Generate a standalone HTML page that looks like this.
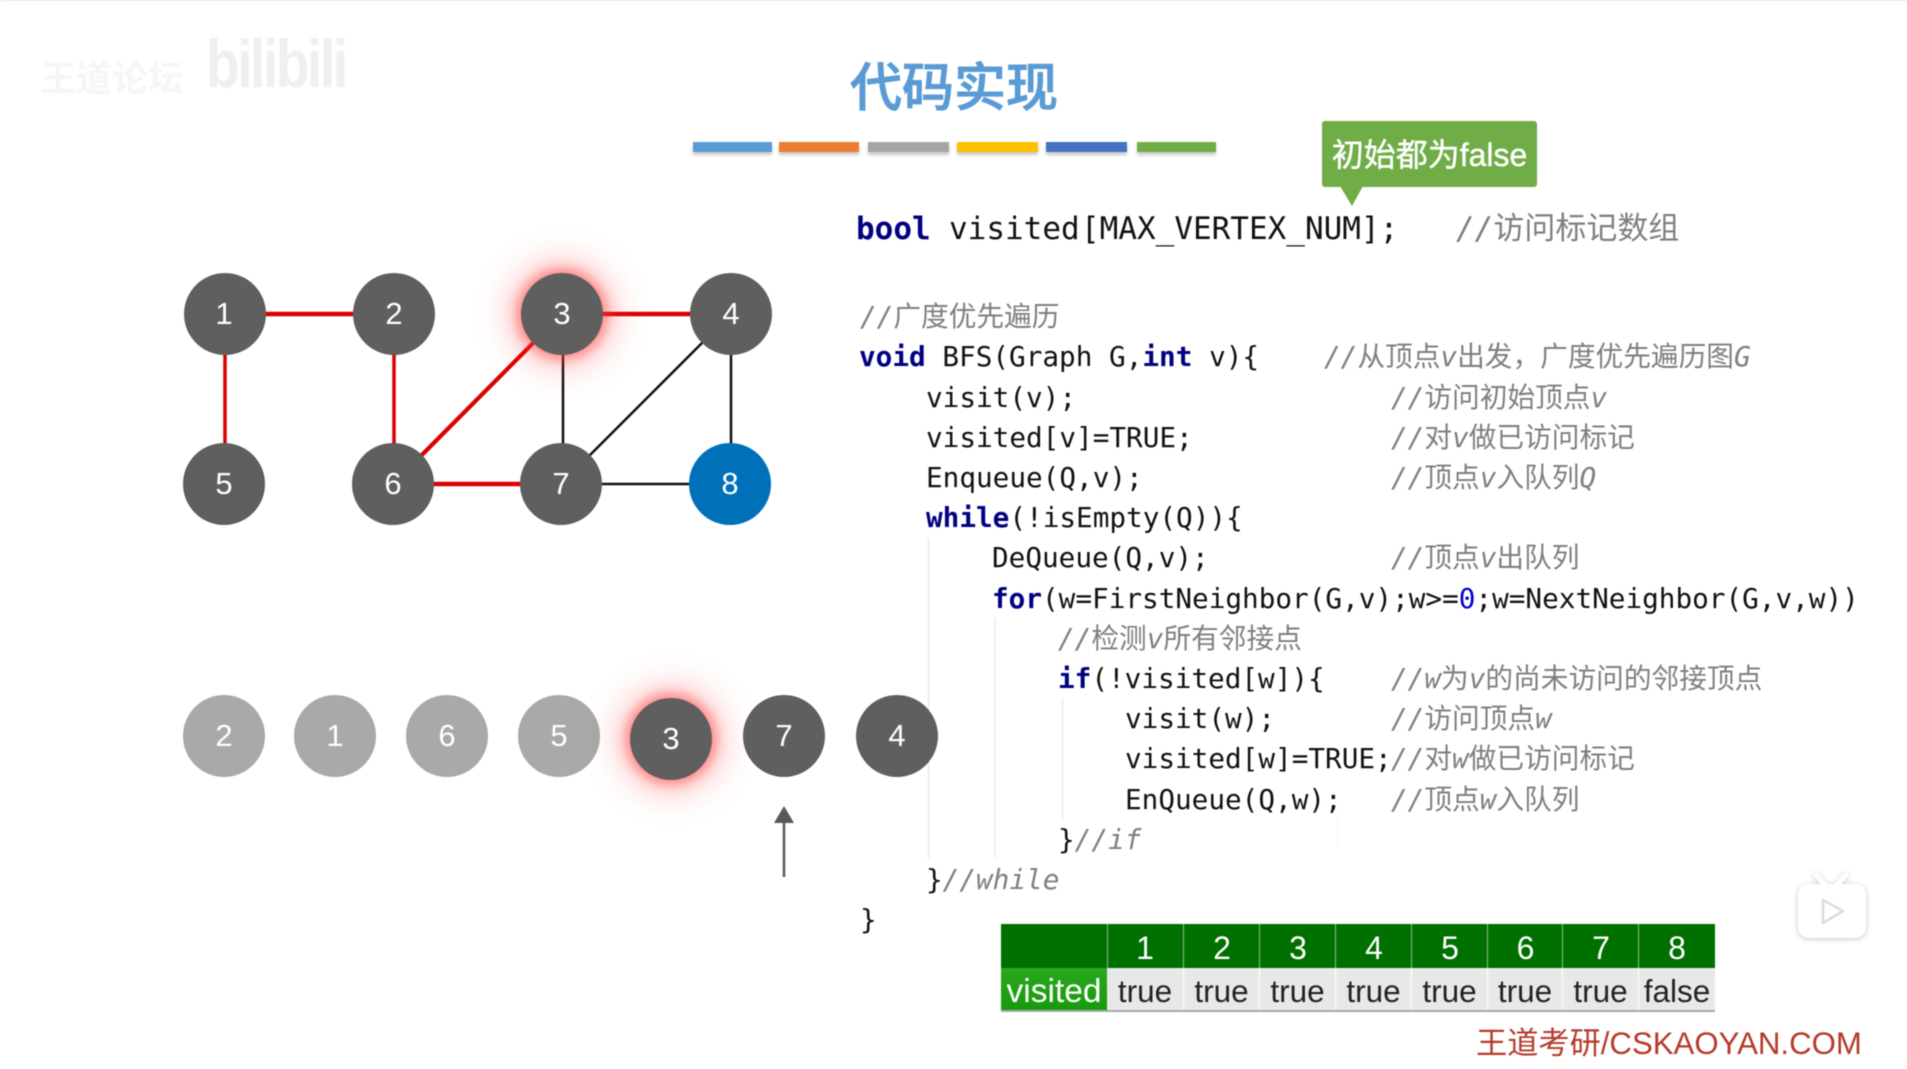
<!DOCTYPE html>
<html><head><meta charset="utf-8">
<style>
html,body{margin:0;padding:0;background:#fff}
#p{position:relative;width:1907px;height:1069px;overflow:hidden;background:#fff;filter:blur(.45px);border-top:0}
#p div{position:absolute}
.l{font:27.7px/40px "DejaVu Sans Mono","Noto Sans CJK SC",monospace;color:#111;white-space:pre}
.k{color:#000080;font-weight:bold}
.c{color:#7f7f7f}
.c i{font-style:italic}
.n{width:82px;height:82px;border-radius:50%;background:#5f5f5f;color:#fff;font:31px/82px "Liberation Sans",sans-serif;text-align:center}
.g{background:#a9a9a9}
.t{font:31.5px/46px "Liberation Sans",sans-serif;text-align:center;color:#222;background:#e8e8e8;height:43px;top:968px}
.h{font:32px/48px "Liberation Sans",sans-serif;text-align:center;color:#fff;height:44px;top:924px}
.b{top:142px;height:10px;box-shadow:0 3px 3px rgba(0,0,0,.22)}
</style></head><body><div id="p">
<div style="left:0;top:0;width:1907px;height:1px;background:#e6e6e6"></div>

<div style="left:40px;top:54px;font:bold 36px/44px 'Noto Sans CJK SC',sans-serif;color:#f6f6f6;white-space:pre">王道论坛</div>
<div style="left:206px;top:28px;font:bold 68px/72px 'Liberation Sans',sans-serif;color:#efefef;letter-spacing:-3px;transform:scaleX(.81);transform-origin:left">bilibili</div>

<div style="left:850px;top:48px;font:500 52px/72px 'Noto Sans CJK SC',sans-serif;color:#5b9bd5;white-space:pre;-webkit-text-stroke:.9px #5b9bd5">代码实现</div>

<div class="b" style="left:693px;width:79px;background:#5b9bd5"></div>
<div class="b" style="left:779px;width:80px;background:#ed7d31"></div>
<div class="b" style="left:868px;width:81px;background:#a5a5a5"></div>
<div class="b" style="left:957px;width:81px;background:#ffc000"></div>
<div class="b" style="left:1046px;width:81px;background:#4472c4"></div>
<div class="b" style="left:1137px;width:79px;background:#70ad47"></div>

<div style="left:1322px;top:121px;width:215px;height:66px;background:#70ad47;border-radius:3px;color:#fff;font:32px/68px 'Liberation Sans','Noto Sans CJK SC',sans-serif;text-align:center;white-space:pre;-webkit-text-stroke:.4px #fff">初始都为false</div>

<svg style="position:absolute;left:0;top:0" width="1907" height="1069">
<polygon points="1340,186 1363,186 1352,206" fill="#70ad47"/>
<g stroke="#dc0000" fill="none">
<line x1="225" y1="314" x2="394" y2="314" stroke-width="4.5"/>
<line x1="562" y1="314" x2="731" y2="314" stroke-width="4.5"/>
<line x1="393" y1="484" x2="561" y2="484" stroke-width="4.5"/>
<line x1="225" y1="314" x2="225" y2="484" stroke-width="3.5"/>
<line x1="394" y1="314" x2="394" y2="484" stroke-width="3.5"/>
<line x1="562" y1="314" x2="393" y2="484" stroke-width="4.2"/>
</g>
<g stroke="#111" fill="none" stroke-width="2.5">
<line x1="563" y1="314" x2="563" y2="484"/>
<line x1="731" y1="314" x2="731" y2="484"/>
<line x1="731" y1="314" x2="561" y2="484"/>
<line x1="561" y1="484" x2="730" y2="484"/>
</g>
<g stroke="#e6e6e6" stroke-width="1.2">
<line x1="928.5" y1="538" x2="928.5" y2="858"/>
<line x1="995" y1="618" x2="995" y2="858"/>
<line x1="1062.5" y1="698" x2="1062.5" y2="820"/>
<line x1="1338" y1="813" x2="1338" y2="845" stroke="#f4f4f4"/>
</g>
<polygon points="784,806 774,823 794,823" fill="#595959"/>
<line x1="784" y1="822" x2="784" y2="877" stroke="#595959" stroke-width="2.5"/>
</svg>

<div class="n" style="left:184px;top:273px;text-indent:-2px">1</div>
<div class="n" style="left:353px;top:273px">2</div>
<div class="n" style="left:521px;top:273px;box-shadow:0 0 12px 4px rgba(255,60,60,.55),0 0 34px 12px rgba(255,60,60,.3)">3</div>
<div class="n" style="left:690px;top:273px">4</div>
<div class="n" style="left:183px;top:443px">5</div>
<div class="n" style="left:352px;top:443px">6</div>
<div class="n" style="left:520px;top:443px">7</div>
<div class="n" style="left:689px;top:443px;background:#0070b8">8</div>

<div class="n g" style="left:183px;top:695px">2</div>
<div class="n g" style="left:294px;top:695px">1</div>
<div class="n g" style="left:406px;top:695px">6</div>
<div class="n g" style="left:518px;top:695px">5</div>
<div class="n" style="left:630px;top:698px;box-shadow:0 0 12px 4px rgba(255,60,60,.55),0 0 34px 12px rgba(255,60,60,.3)">3</div>
<div class="n" style="left:743px;top:695px">7</div>
<div class="n" style="left:856px;top:695px">4</div>

<div class="l" style="left:856px;top:208.5px;font-size:31px"><span class="k">bool</span></div>
<div class="l" style="left:949px;top:208.5px;font-size:31px">visited</div>
<div class="l" style="left:1081px;top:208.5px;font-size:31px">[MAX_VERTEX_NUM];</div>
<div class="l c" style="left:1456px;top:208.5px;font-size:31px"><i>//</i>访问标记数组</div>

<div class="l c" style="left:860px;top:297.3px"><i>//</i>广度优先遍历</div>
<div class="l" style="left:859px;top:337.4px"><span class="k">void</span> BFS(Graph G,<span class="k">int</span> v){</div>
<div class="l c" style="left:1324px;top:337.4px"><i>//</i>从顶点<i>v</i>出发，广度优先遍历图<i>G</i></div>
<div class="l" style="left:926px;top:377.6px">visit(v);</div>
<div class="l c" style="left:1391px;top:377.6px"><i>//</i>访问初始顶点<i>v</i></div>
<div class="l" style="left:926px;top:417.8px">visited[v]=TRUE;</div>
<div class="l c" style="left:1391px;top:417.8px"><i>//</i>对<i>v</i>做已访问标记</div>
<div class="l" style="left:926px;top:458px">Enqueue(Q,v);</div>
<div class="l c" style="left:1391px;top:458px"><i>//</i>顶点<i>v</i>入队列<i>Q</i></div>
<div class="l" style="left:926px;top:498.2px"><span class="k">while</span>(!isEmpty(Q)){</div>
<div class="l" style="left:992px;top:538.4px">DeQueue(Q,v);</div>
<div class="l c" style="left:1391px;top:538.4px"><i>//</i>顶点<i>v</i>出队列</div>
<div class="l" style="left:992px;top:578.6px"><span class="k">for</span>(w=FirstNeighbor(G,v);w&gt;=<span style="color:#0000d0">0</span>;w=NextNeighbor(G,v,w))</div>
<div class="l c" style="left:1058px;top:618.8px"><i>//</i>检测<i>v</i>所有邻接点</div>
<div class="l" style="left:1058px;top:659px"><span class="k">if</span>(!visited[w]){</div>
<div class="l c" style="left:1391px;top:659px"><i>//w</i>为<i>v</i>的尚未访问的邻接顶点</div>
<div class="l" style="left:1125px;top:699.2px">visit(w);</div>
<div class="l c" style="left:1391px;top:699.2px"><i>//</i>访问顶点<i>w</i></div>
<div class="l" style="left:1125px;top:739.4px">visited[w]=TRUE;</div>
<div class="l c" style="left:1391px;top:739.4px"><i>//</i>对<i>w</i>做已访问标记</div>
<div class="l" style="left:1125px;top:779.6px">EnQueue(Q,w);</div>
<div class="l c" style="left:1391px;top:779.6px"><i>//</i>顶点<i>w</i>入队列</div>
<div class="l" style="left:1058px;top:819.8px">}<span class="c"><i>//if</i></span></div>
<div class="l" style="left:926px;top:860px">}<span class="c"><i>//while</i></span></div>
<div class="l" style="left:860px;top:900.2px">}</div>

<div style="left:1001px;top:924px;width:714px;height:44px;background:#007000"></div>
<div style="left:1001px;top:968px;width:106px;height:43px;background:linear-gradient(#2aa81e,#169a0c);color:#fff;font:33.5px/47px 'Liberation Sans',sans-serif;text-align:center">visited</div>
<div class="h" style="left:1107px;width:76px">1</div>
<div class="h" style="left:1184px;width:76px">2</div>
<div class="h" style="left:1260px;width:76px">3</div>
<div class="h" style="left:1336px;width:76px">4</div>
<div class="h" style="left:1412px;width:76px">5</div>
<div class="h" style="left:1488px;width:75px">6</div>
<div class="h" style="left:1563px;width:76px">7</div>
<div class="h" style="left:1639px;width:76px">8</div>
<div class="t" style="left:1107px;width:76px">true</div>
<div class="t" style="left:1184px;width:75px">true</div>
<div class="t" style="left:1260px;width:75px">true</div>
<div class="t" style="left:1336px;width:75px">true</div>
<div class="t" style="left:1412px;width:75px">true</div>
<div class="t" style="left:1488px;width:74px">true</div>
<div class="t" style="left:1563px;width:75px">true</div>
<div class="t" style="left:1639px;width:76px">false</div>
<div style="left:1001px;top:1010px;width:714px;height:1.5px;background:#a8a8a8"></div>
<div style="left:1107px;top:924px;width:1px;height:44px;background:#8fbf8f"></div>
<div style="left:1183px;top:924px;width:1px;height:44px;background:#8fbf8f"></div>
<div style="left:1259px;top:924px;width:1px;height:44px;background:#8fbf8f"></div>
<div style="left:1335px;top:924px;width:1px;height:44px;background:#8fbf8f"></div>
<div style="left:1411px;top:924px;width:1px;height:44px;background:#8fbf8f"></div>
<div style="left:1487px;top:924px;width:1px;height:44px;background:#8fbf8f"></div>
<div style="left:1562px;top:924px;width:1px;height:44px;background:#8fbf8f"></div>
<div style="left:1638px;top:924px;width:1px;height:44px;background:#8fbf8f"></div>

<div style="left:1476px;top:1023px;font:31.2px/42px 'Liberation Sans','Noto Sans CJK SC',sans-serif;color:#b53a2a;white-space:pre">王道考研/CSKAOYAN.COM</div>

<svg style="position:absolute;left:1780px;top:860px" width="110" height="90">
<defs><filter id="s" x="-30%" y="-30%" width="160%" height="160%"><feDropShadow dx="0" dy="1" stdDeviation="3" flood-color="#000" flood-opacity=".22"/></filter></defs>
<g filter="url(#s)" fill="#fff">
<line x1="36" y1="15" x2="46" y2="26" stroke="#fff" stroke-width="5" stroke-linecap="round"/>
<line x1="66" y1="15" x2="56" y2="26" stroke="#fff" stroke-width="5" stroke-linecap="round"/>
<rect x="18" y="24" width="68" height="54" rx="11"/>
</g>
<polygon points="43,40 63,51 43,63" fill="#fff" stroke="#dcdcdc" stroke-width="2.5" stroke-linejoin="round"/>
</svg>
</div></body></html>
